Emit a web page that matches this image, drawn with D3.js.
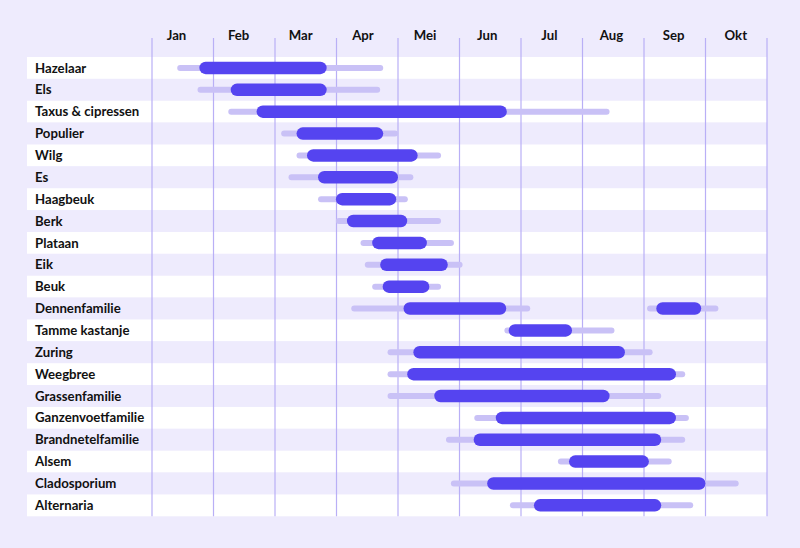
<!DOCTYPE html>
<html>
<head>
<meta charset="utf-8">
<script src="https://cdn.jsdelivr.net/npm/d3@7"></script>
<style>
  html, body { margin: 0; padding: 0; background: #eeebfd; }
  svg { display: block; }
  text { font-family: Lato, "Noto Sans", sans-serif; }
</style>
</head>
<body>
<svg id="chart" width="800" height="548"></svg>
<script>
// Month labels (x axis, month units from Jan 1)
const months = ["Jan", "Feb", "Mar", "Apr", "Mei", "Jun", "Jul", "Aug", "Sep", "Okt"];
// Categories (rows)
const categories = ["Hazelaar", "Els", "Taxus & cipressen", "Populier", "Wilg", "Es", "Haagbeuk", "Berk",
  "Plataan", "Eik", "Beuk", "Dennenfamilie", "Tamme kastanje", "Zuring", "Weegbree", "Grassenfamilie",
  "Ganzenvoetfamilie", "Brandnetelfamilie", "Alsem", "Cladosporium", "Alternaria"];
// Full season (light bar): start / end, in months from Jan 1
const seasonStart = [0.41, 0.74, 1.24, 2.10, 2.35, 2.22, 2.70, 2.99, 3.39, 3.46, 3.58, 3.24, 5.73, 3.83, 3.83, 3.83, 5.24, 4.78, 6.60, 4.86, 5.82];
const seasonEnd   = [3.76, 3.71, 7.44, 4.00, 4.70, 4.25, 4.16, 4.70, 4.91, 5.05, 4.70, 6.15, 7.52, 8.14, 8.67, 8.28, 8.73, 8.67, 8.45, 9.54, 8.80];
// Peak season (dark bar): start / end
const peakStart = [0.77, 1.28, 1.70, 2.35, 2.52, 2.70, 2.99, 3.17, 3.58, 3.71, 3.75, 4.09, 5.80, 4.25, 4.15, 4.59, 5.59, 5.23, 6.78, 5.45, 6.21];
const peakEnd   = [2.84, 2.84, 5.77, 3.76, 4.32, 4.00, 3.97, 4.15, 4.47, 4.81, 4.51, 5.76, 6.83, 7.69, 8.52, 7.44, 8.52, 8.28, 8.08, 9.00, 8.28];
// Second flowering period (Dennenfamilie in autumn)
const extraCategory = ["Dennenfamilie"];
const extraSeasonStart = [8.05], extraSeasonEnd = [9.21];
const extraPeakStart = [8.20], extraPeakEnd = [8.93];

const svg = d3.select("#chart");
const x = d3.scaleLinear().domain([0, months.length]).range([152, 767]);
const labelX = d3.scaleLinear().domain([0, months.length - 1]).range([176.5, 735.8]);
const y = d3.scaleBand().domain(categories).range([57, 516.3]).padding(0);

const lightSegs = categories.map((c, i) => ({c, a: seasonStart[i], b: seasonEnd[i]}))
  .concat(extraCategory.map((c, i) => ({c, a: extraSeasonStart[i], b: extraSeasonEnd[i]})));
const darkSegs = categories.map((c, i) => ({c, a: peakStart[i], b: peakEnd[i]}))
  .concat(extraCategory.map((c, i) => ({c, a: extraPeakStart[i], b: extraPeakEnd[i]})));

// row backgrounds
svg.append("g").selectAll("rect").data(categories).join("rect")
  .attr("x", 27).attr("width", 767 - 27)
  .attr("y", d => y(d)).attr("height", y.bandwidth())
  .attr("fill", (d, i) => i % 2 === 0 ? "#ffffff" : "#eeebfd");

// vertical grid lines
svg.append("g").selectAll("line").data(d3.range(months.length + 1)).join("line")
  .attr("x1", d => x(d)).attr("x2", d => x(d))
  .attr("y1", 38).attr("y2", 516.3)
  .attr("stroke", "#b9aff6").attr("stroke-width", 1.2);

// month labels
svg.append("g").selectAll("text").data(months).join("text")
  .attr("x", (d, i) => labelX(i)).attr("y", 39.5)
  .attr("text-anchor", "middle")
  .attr("font-size", 13.2).attr("font-weight", 700).attr("fill", "#111111")
  .text(d => d);

// row labels
svg.append("g").selectAll("text").data(categories).join("text")
  .attr("x", 35).attr("y", d => y(d) + y.bandwidth() / 2)
  .attr("dy", "0.35em")
  .attr("font-size", 13.2).attr("font-weight", 700).attr("fill", "#111111")
  .text(d => d);

// light bars
const lh = 6;
svg.append("g").selectAll("rect").data(lightSegs).join("rect")
  .attr("x", d => x(d.a)).attr("width", d => x(d.b) - x(d.a))
  .attr("y", d => y(d.c) + y.bandwidth() / 2 - lh / 2).attr("height", lh)
  .attr("rx", lh / 2).attr("fill", "#c9c1f6");

// dark bars
const dh = 12.5;
svg.append("g").selectAll("rect").data(darkSegs).join("rect")
  .attr("x", d => x(d.a)).attr("width", d => x(d.b) - x(d.a))
  .attr("y", d => y(d.c) + y.bandwidth() / 2 - dh / 2).attr("height", dh)
  .attr("rx", dh / 2).attr("fill", "#5544f0");
</script>
</body>
</html>
